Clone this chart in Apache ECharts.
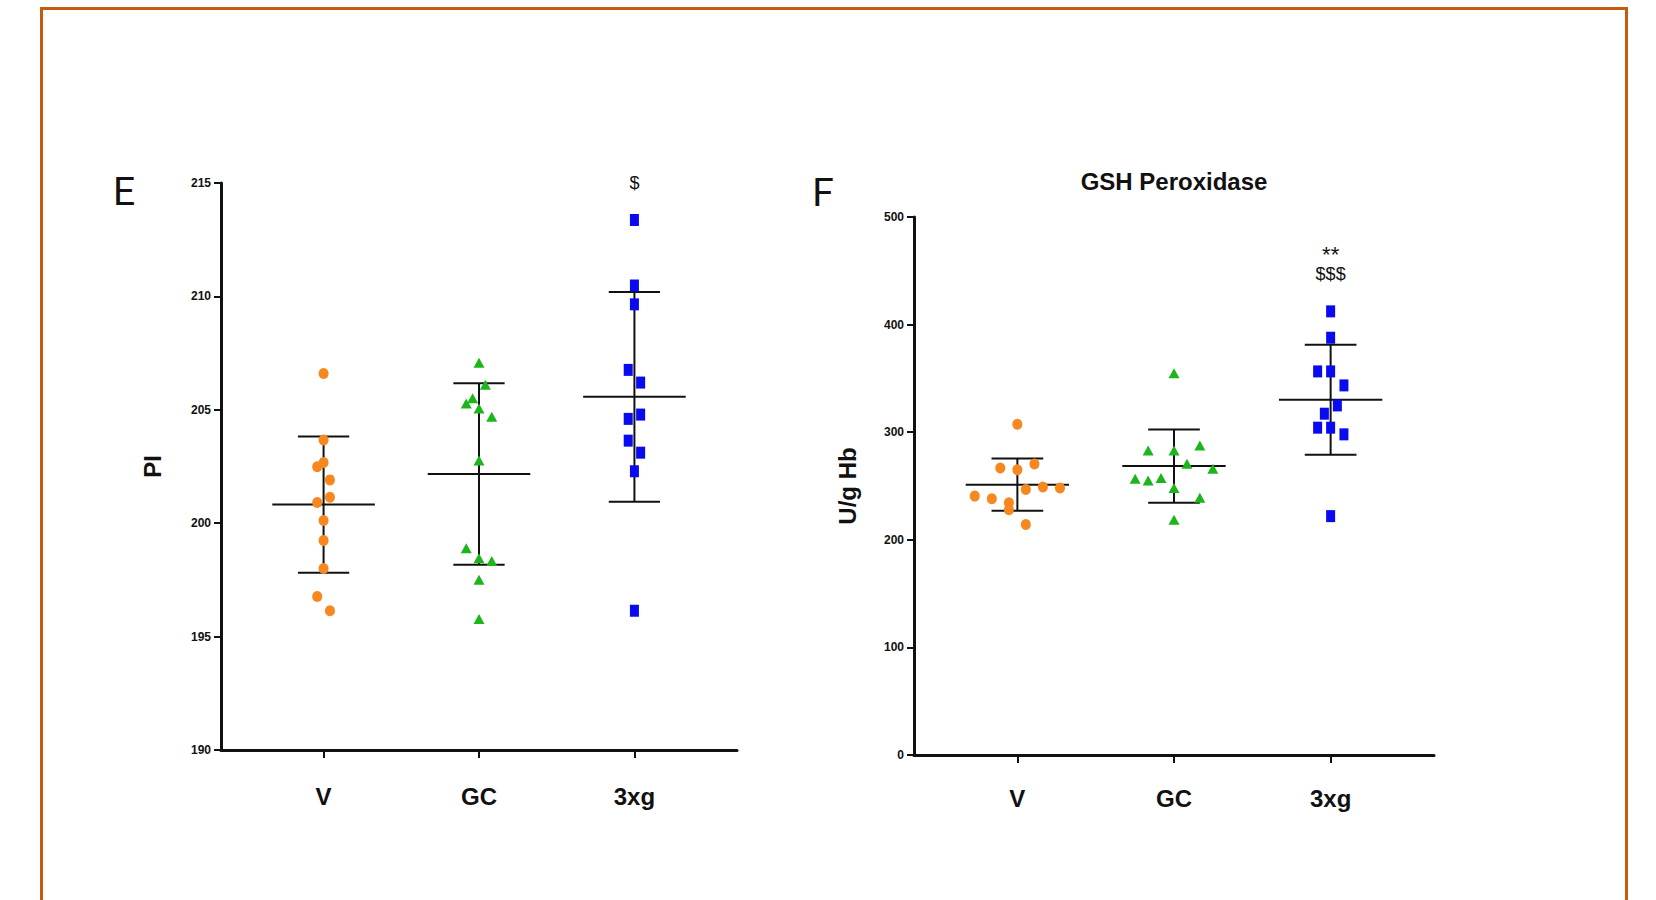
<!DOCTYPE html>
<html>
<head>
<meta charset="utf-8">
<script src="https://cdn.jsdelivr.net/npm/echarts@6/dist/echarts.min.js"></script>
<style>
  html, body { margin: 0; padding: 0; background: #fff; }
  #chart { width: 1656px; height: 900px; }
</style>
</head>
<body>
<div id="chart"></div>
<script>
// groups on the x axis
const categories = ["V", "GC", "3xg"];

// panel E : PI
const piV = [206.6, 203.67, 202.68, 202.49, 201.91, 201.14, 200.91, 200.12, 199.24, 198.0, 196.77, 196.14];
const piGC = [207.07, 206.11, 205.51, 205.28, 205.06, 204.69, 202.76, 198.89, 198.46, 198.33, 197.51, 195.78];
const pi3xg = [213.37, 210.48, 209.65, 206.76, 206.2, 204.6, 204.79, 203.64, 203.11, 202.29, 196.14];
// horizontal spread of the points (in group units)
const piJitV = [0, 0, 0, -0.041, 0.041, 0.041, -0.041, 0, 0, 0, -0.041, 0.041];
const piJitGC = [0, 0.041, -0.041, -0.082, 0, 0.082, 0, -0.082, 0, 0.082, 0, 0];
const piJit3xg = [0, 0, 0, -0.04, 0.04, -0.04, 0.04, -0.04, 0.04, 0, 0];
const piMean = [200.82, 202.17, 205.57];
const piSd = [3.0, 4.0, 4.62];
const piTicks = [190, 195, 200, 205, 210, 215];
const piMarks = ["", "", "$"];

// panel F : GSH Peroxidase
const gshV = [307.3, 266.7, 265.1, 270.4, 246.8, 249.0, 248.1, 240.6, 238.1, 234.4, 227.9, 214.3];
const gshGC = [354.9, 283.1, 283.1, 287.7, 270.7, 266.0, 256.7, 255.2, 257.4, 248.1, 239.1, 218.6];
const gsh3xg = [412.3, 387.8, 356.5, 356.5, 343.5, 324.9, 317.2, 304.2, 304.2, 298.0, 222.0];
const gshJitV = [0, -0.109, 0, 0.109, 0.054, 0.163, 0.272, -0.272, -0.163, -0.054, -0.054, 0.054];
const gshJitGC = [0, -0.165, 0, 0.165, 0.083, 0.248, -0.248, -0.165, -0.083, 0, 0.165, 0];
const gshJit3xg = [0, 0, -0.083, 0, 0.085, 0.043, -0.04, -0.083, 0, 0.085, 0];
const gshMean = [251.2, 268.5, 330.2];
const gshSd = [24.3, 34.0, 51.1];
const gshTicks = [0, 100, 200, 300, 400, 500];
const gshMarks = ["", "", "**\n$$$"];

const colors = ["#f7881f", "#1cb51c", "#0a0af0"];
const symbols = ["circle", "triangle", "rect"];
const symbolSizes = [[10, 11], [11, 10], [9, 12]];

const MEAN_HALF = 0.33; // half width of the mean line
const CAP_HALF = 0.165; // half width of the SD caps

var myChart = echarts.init(document.getElementById("chart"), null, { renderer: "svg" });

function xAxisFor (gridIndex, margin) {
  return {
    type: "value",
    gridIndex: gridIndex,
    min: 0.34,
    max: 3.66,
    splitLine: { show: false },
    axisLine: { show: true, lineStyle: { color: "#111", width: 3 } },
    axisTick: { show: true, customValues: [1, 2, 3], length: 8, lineStyle: { color: "#111", width: 2 } },
    axisLabel: {
      customValues: [1, 2, 3],
      formatter: (v) => categories[Math.round(v) - 1],
      fontSize: 24,
      fontWeight: "bold",
      color: "#111",
      margin: margin,
    },
  };
}

function yAxisFor (gridIndex, ticks, name, gap) {
  return {
    type: "value",
    gridIndex: gridIndex,
    min: ticks[0],
    max: ticks[ticks.length - 1],
    interval: ticks[1] - ticks[0],
    name: name,
    nameLocation: "middle",
    nameGap: gap,
    nameTextStyle: { fontSize: 24, fontWeight: "bold", color: "#111" },
    splitLine: { show: false },
    axisLine: { show: true, lineStyle: { color: "#111", width: 3 } },
    axisTick: { show: true, length: 7, lineStyle: { color: "#111", width: 2 } },
    axisLabel: { fontSize: 12, fontWeight: "bold", color: "#111", margin: 10 },
  };
}

// mean +/- SD bars, plus the significance marks above each group
function errorBars (axisIndex, groups, mean, sd, marks) {
  return {
    type: "custom",
    xAxisIndex: axisIndex,
    yAxisIndex: axisIndex,
    z: 2,
    data: categories.map((c, k) => [k + 1, mean[k], sd[k], Math.max(...groups[k]), k]),
    renderItem: function (params, api) {
      const i = api.value(0), m = api.value(1), s = api.value(2), top = api.value(3);
      const mark = marks[api.value(4)];
      const st = { stroke: "#111", lineWidth: 2 };
      const seg = (a, b) => ({ type: "line", shape: { x1: a[0], y1: a[1], x2: b[0], y2: b[1] }, style: st });
      const children = [
        seg(api.coord([i - MEAN_HALF, m]), api.coord([i + MEAN_HALF, m])),
        seg(api.coord([i, m - s]), api.coord([i, m + s])),
        seg(api.coord([i - CAP_HALF, m + s]), api.coord([i + CAP_HALF, m + s])),
        seg(api.coord([i - CAP_HALF, m - s]), api.coord([i + CAP_HALF, m - s])),
      ];
      if (mark) {
        const p = api.coord([i, top]);
        // bottom line first, earlier lines stacked above it
        const lines = mark.split("\n").reverse();
        lines.forEach((t, n) => {
          const stars = t.indexOf("*") >= 0;
          children.push({
            type: "text",
            x: p[0],
            y: p[1] - 28 - n * 18,
            style: {
              text: t,
              align: "center",
              verticalAlign: "bottom",
              fontSize: stars ? 22 : 18,
              fontFamily: "Liberation Sans",
              fill: "#111",
            },
          });
        });
      }
      return { type: "group", children: children };
    },
  };
}

function pointSeries (axisIndex, groups, jitters) {
  return groups.map((vals, k) => ({
    type: "scatter",
    xAxisIndex: axisIndex,
    yAxisIndex: axisIndex,
    z: 3,
    symbol: symbols[k],
    symbolSize: symbolSizes[k],
    itemStyle: { color: colors[k], opacity: 1 },
    data: vals.map((v, j) => [k + 1 + jitters[k][j], v]),
  }));
}

const piGroups = [piV, piGC, pi3xg];
const gshGroups = [gshV, gshGC, gsh3xg];

var option = {
  animation: false,
  backgroundColor: "#fff",
  textStyle: { fontFamily: "Liberation Sans" },
  grid: [
    { left: 221, top: 183, width: 516, height: 567 },
    { left: 914, top: 217, width: 520, height: 538 },
  ],
  xAxis: [xAxisFor(0, 34), xAxisFor(1, 31)],
  yAxis: [
    yAxisFor(0, piTicks, "PI", 57),
    yAxisFor(1, gshTicks, "U/g Hb", 55),
  ],
  graphic: [
    // outer frame
    {
      type: "rect",
      shape: { x: 41.5, y: 8.5, width: 1585, height: 1000 },
      style: { fill: "none", stroke: "#c55a11", lineWidth: 3 },
      silent: true,
    },
    {
      type: "text", x: 124, y: 192,
      style: { text: "E", align: "center", verticalAlign: "middle", fontSize: 39, fontFamily: "Roboto", fill: "#111" },
    },
    {
      type: "text", x: 823, y: 193,
      style: { text: "F", align: "center", verticalAlign: "middle", fontSize: 39, fontFamily: "Roboto", fill: "#111" },
    },
    {
      type: "text", x: 1174, y: 181,
      style: {
        text: "GSH Peroxidase", align: "center", verticalAlign: "middle",
        fontSize: 24, fontWeight: "bold", fontFamily: "Liberation Sans", fill: "#111",
      },
    },
  ],
  series: [
    errorBars(0, piGroups, piMean, piSd, piMarks),
    ...pointSeries(0, piGroups, [piJitV, piJitGC, piJit3xg]),
    errorBars(1, gshGroups, gshMean, gshSd, gshMarks),
    ...pointSeries(1, gshGroups, [gshJitV, gshJitGC, gshJit3xg]),
  ],
};

myChart.setOption(option);
</script>
</body>
</html>
